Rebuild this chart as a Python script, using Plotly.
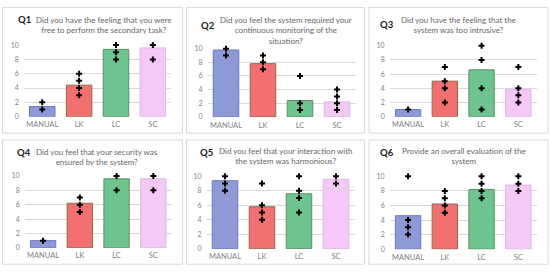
import plotly.graph_objects as go

W, H = 550, 276

categories = ["MANUAL", "LK", "LC", "SC"]
question_ids = ["Q1", "Q2", "Q3", "Q4", "Q5", "Q6"]
question_texts = [
    "Did you have the feeling that you were<br>free to perform the secondary task?",
    "Did you feel the system required your<br>continuous monitoring of the<br>situation?",
    "Did you have the feeling that the<br>system was too intrusive?",
    "Did you feel that your security was<br>ensured by the system?",
    "Did you feel that your interaction with<br>the system was harmonious?",
    "Provide an overall evaluation of the<br>system",
]

# mean bar values per question (MANUAL, LK, LC, SC)
q1_means = [1.4, 4.4, 9.4, 9.6]
q2_means = [9.8, 7.8, 2.4, 2.2]
q3_means = [1.0, 5.0, 6.6, 3.8]
q4_means = [1.0, 6.2, 9.6, 9.6]
q5_means = [9.4, 5.8, 7.6, 9.6]
q6_means = [4.6, 6.2, 8.2, 8.8]

# individual answers per question and condition
q1_points = [[1, 2], [3, 4, 5, 6], [8, 9, 10], [8, 10]]
q2_points = [[9, 10], [7, 8, 9], [1, 2, 6], [1, 2, 3, 4]]
q3_points = [[1], [2, 4, 5, 7], [1, 4, 8, 10], [2, 3, 4, 7]]
q4_points = [[1], [5, 6, 7], [8, 10], [8, 10]]
q5_points = [[8, 9, 10], [4, 5, 6, 9], [5, 7, 8, 10], [9, 10]]
q6_points = [[2, 3, 4, 10], [5, 6, 7, 8], [7, 8, 9, 10], [8, 9, 10]]

y_ticks = [0, 2, 4, 6, 8, 10]

all_means = [q1_means, q2_means, q3_means, q4_means, q5_means, q6_means]
all_points = [q1_points, q2_points, q3_points, q4_points, q5_points, q6_points]

fill_colors = ["#8E9AD6", "#F27070", "#6DC48E", "#F4C9F6"]
line_colors = ["#6878C0", "#8C6A48", "#5E8E62", "#E2B2EC"]

# layout geometry in pixels
panels = [  # x0, x1, y0, y1
    (2.5, 182.5, 3.5, 132.5), (186.5, 364.5, 3.5, 132.5), (369, 548, 3.5, 132.5),
    (2.5, 182.5, 139.5, 267), (186.5, 364.5, 139.5, 267), (369, 548, 139.5, 267),
]
plots = [  # x left, x right, y top (10), y bottom (0)
    (23.8, 171.3, 42, 115.7), (207.5, 355.5, 45.7, 116), (389.7, 536.7, 42.7, 115.7),
    (24.7, 171.7, 176.3, 250.3), (206.5, 354.5, 176.7, 251.3), (389.7, 536.7, 176.7, 251.7),
]
qlabel_pos = [(16.7, 16), (199.7, 21.7), (379.3, 20.7), (16, 152), (199, 152), (378.7, 152)]
qtext_pos = [(103.3, 21.3), (285.5, 26.7), (458.7, 21.3), (96.7, 156.8), (286, 156.3), (464, 156.3)]


def px(x):
    return x / W


def py(y):
    return 1 - y / H


fig = go.Figure()
shapes = []
annotations = []
layout_axes = {}

for i in range(6):
    n = "" if i == 0 else str(i + 1)
    xa, ya = "x" + n, "y" + n
    fig.add_trace(go.Bar(
        x=categories, y=all_means[i], xaxis=xa, yaxis=ya,
        marker=dict(color=fill_colors, line=dict(color=line_colors, width=1)),
        showlegend=False, hoverinfo="skip",
    ))
    xs, ys = [], []
    for c, pts in zip(categories, all_points[i]):
        for v in pts:
            xs.append(c)
            ys.append(v)
    fig.add_trace(go.Scatter(
        x=xs, y=ys, xaxis=xa, yaxis=ya, mode="markers",
        marker=dict(symbol="cross", size=5, color="black", line=dict(width=0)),
        cliponaxis=False, showlegend=False, hoverinfo="skip",
    ))
    xl, xr, yt, yb = plots[i]
    layout_axes["xaxis" + n] = dict(
        domain=[px(xl), px(xr)], anchor=ya, type="category",
        categoryorder="array", categoryarray=categories,
        showgrid=False, showline=False, zeroline=False, ticks="",
        tickfont=dict(size=7.5, color="#7F7F7F", family="Lato"),
        ticklabelstandoff=2,
    )
    layout_axes["yaxis" + n] = dict(
        domain=[py(yb), py(yt)], anchor=xa, range=[-0.02, 10.02],
        tickvals=y_ticks, showgrid=True, gridcolor="#D9D9D9", gridwidth=1,
        zeroline=False, showline=False, ticks="",
        tickfont=dict(size=7, color="#7F7F7F", family="Lato"),
        ticklabelstandoff=4,
    )
    x0, x1, y0, y1 = panels[i]
    shapes.append(dict(type="rect", xref="paper", yref="paper",
                       x0=px(x0), x1=px(x1), y0=py(y1), y1=py(y0),
                       line=dict(color="#D9D9D9", width=1), fillcolor="rgba(0,0,0,0)",
                       layer="below"))
    qx, qy = qlabel_pos[i]
    annotations.append(dict(text="<b>" + question_ids[i] + "</b>", xref="paper", yref="paper",
                            x=px(qx), y=py(qy), xanchor="left", yanchor="middle",
                            showarrow=False, borderpad=0,
                            font=dict(size=9.5, color="#1A1A1A", family="Lato")))
    tx, ty = qtext_pos[i]
    annotations.append(dict(text=question_texts[i], xref="paper", yref="paper",
                            x=px(tx), y=py(ty), xanchor="center", yanchor="middle",
                            align="center", showarrow=False, borderpad=0,
                            font=dict(size=8, color="#666666", family="Lato")))

fig.update_layout(
    width=W, height=H, margin=dict(l=0, r=0, t=0, b=0),
    paper_bgcolor="white", plot_bgcolor="rgba(0,0,0,0)",
    bargap=0.31, shapes=shapes, annotations=annotations,
    **layout_axes,
)

fig.write_html("out.html", config={"displayModeBar": False},
               post_script="document.body.style.margin='0px';")
